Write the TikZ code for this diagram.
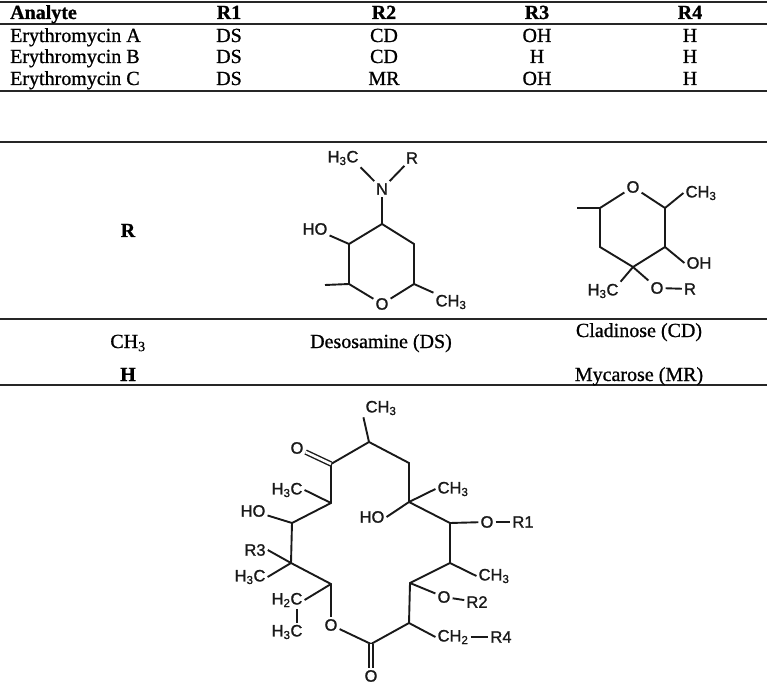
\documentclass[tikz,border=0pt]{standalone}
\usepackage{fontspec}
\setmainfont[FakeBold=0.9,BoldFeatures={FakeBold=0.9}]{Liberation Serif}
\newfontfamily\chemfont[FakeBold=1.3]{Liberation Sans}
\tikzset{
    rulea/.style={line width=2.2pt,black!85},
    cell/.style={anchor=base,inner sep=0pt,font=\fontsize{20}{22}\selectfont},
    head/.style={cell,font=\fontsize{20}{22}\selectfont\bfseries},
    bond/.style={line width=1.9pt,black!90},
    dbond/.style={bond,double,double distance=2.6pt,line width=1.4pt},
    atom/.style={inner sep=2pt,font=\fontsize{16.5}{18}\selectfont\chemfont,black!90},
}
\begin{document}
\begin{tikzpicture}[x=1pt,y=-1pt]
        \useasboundingbox (0,0) rectangle (767,684);
        %% Rules
        \draw[rulea] (0,2) to (767,2);
        \draw[rulea] (0,24) to (767,24);
        \draw[rulea] (0,91) to (767,91);
        \draw[rulea] (0,142) to (767,142);
        \draw[rulea] (0,319) to (767,319);
        \draw[rulea] (0,385) to (767,385);
        %% Upper table
        \node[head,anchor=base west] (analyte) at (10,19) {Analyte};
        \node[head] (ra) at (229,19) {R1};
        \node[head] (rb) at (384,19) {R2};
        \node[head] (rc) at (537,19) {R3};
        \node[head] (rd) at (690,19) {R4};
        \node[cell,anchor=base west] (erya) at (10,42) {Erythromycin A};
        \node[cell] (ads) at (229,42) {DS};
        \node[cell] (acd) at (384,42) {CD};
        \node[cell] (aoh) at (537,42) {OH};
        \node[cell] (ah) at (690,42) {H};
        \node[cell,anchor=base west] (eryb) at (10,63) {Erythromycin B};
        \node[cell] (bds) at (229,63) {DS};
        \node[cell] (bcd) at (384,63) {CD};
        \node[cell] (boh) at (537,63) {H};
        \node[cell] (bh) at (690,63) {H};
        \node[cell,anchor=base west] (eryc) at (10,85) {Erythromycin C};
        \node[cell] (cds) at (229,85) {DS};
        \node[cell] (cmr) at (384,85) {MR};
        \node[cell] (coh) at (537,85) {OH};
        \node[cell] (ch) at (690,85) {H};
        %% Lower table
        \node[head] (rhead) at (128,237) {R};
        \node[cell] (rme) at (128,348) {CH\textsubscript{3}};
        \node[head] (rh) at (128,381) {H};
        \node[cell] (dsname) at (381,348) {Desosamine (DS)};
        \node[cell] (cdname) at (639,337) {Cladinose (CD)};
        \node[cell] (mrname) at (639,381) {Mycarose (MR)};
        %% Desosamine
        \coordinate (da) at (382,224);
        \coordinate (db) at (414,244);
        \coordinate (dc) at (414,284);
        \coordinate (dd) at (349,284);
        \coordinate (de) at (349,244);
        \coordinate (dme) at (325,285);
        \node[atom] (dn) at (382,189) {N};
        \node[atom] (dhc) at (343,158) {H\textsubscript{3}C};
        \node[atom] (dr) at (412,158) {R};
        \node[atom] (dho) at (315,229) {HO};
        \node[atom] (do) at (382,304) {O};
        \node[atom] (dch) at (451,302) {CH\textsubscript{3}};
        \draw[bond] (da) -- (db) -- (dc) -- (do) -- (dd) -- (de) -- (da);
        \draw[bond] (da) -- (dn);
        \draw[bond] (dn) -- (dhc.south east);
        \draw[bond] (dn) -- (dr);
        \draw[bond] (de) -- (dho);
        \draw[bond] (dd) -- (dme);
        \draw[bond] (dc) -- (dch.north west);
        %% Cladinose
        \coordinate (ca) at (600,208);
        \coordinate (cb) at (600,247);
        \coordinate (cc) at (633,267);
        \coordinate (cd) at (665,247);
        \coordinate (ce) at (665,208);
        \coordinate (cme) at (577,208);
        \node[atom] (co) at (633,187) {O};
        \node[atom] (cch) at (701,193) {CH\textsubscript{3}};
        \node[atom] (coh) at (699,263) {OH};
        \node[atom] (chc) at (603,291) {H\textsubscript{3}C};
        \node[atom] (cop) at (657,288) {O};
        \node[atom] (crr) at (690,289) {R};
        \draw[bond] (co) -- (ca) -- (cb) -- (cc) -- (cd) -- (ce) -- (co);
        \draw[bond] (ca) -- (cme);
        \draw[bond] (ce) -- (cch.west);
        \draw[bond] (cd) -- (coh.west);
        \draw[bond] (cc) -- (chc.north east);
        \draw[bond] (cc) -- (cop);
        \draw[bond] (cop) -- (crr);
        %% Macrolide ring
        \coordinate (ma) at (369,442);
        \coordinate (mb) at (331,464);
        \coordinate (mc) at (409,463);
        \coordinate (md) at (409,502);
        \coordinate (me) at (450,523);
        \coordinate (mf) at (450,563);
        \coordinate (mg) at (410,583);
        \coordinate (mh) at (409,623);
        \coordinate (mi) at (371,644);
        \coordinate (mj) at (331,584);
        \coordinate (mk) at (291,563);
        \coordinate (ml) at (292,523);
        \coordinate (mm) at (331,503);
        \node[atom] (mo) at (331,625) {O};
        \node[atom] (mok) at (297,448) {O};
        \node[atom] (moc) at (371,676) {O};
        \node[atom] (mtop) at (381,408) {CH\textsubscript{3}};
        \node[atom] (mhca) at (287,490) {H\textsubscript{3}C};
        \node[atom] (mhoa) at (253,511) {HO};
        \node[atom] (mrc) at (255,550) {R3};
        \node[atom] (mhcb) at (250,577) {H\textsubscript{3}C};
        \node[atom] (mhb) at (287,600) {H\textsubscript{2}C};
        \node[atom] (mhcc) at (287,632) {H\textsubscript{3}C};
        \node[atom] (mhob) at (372,517) {HO};
        \node[atom] (mcha) at (453,489) {CH\textsubscript{3}};
        \node[atom] (moa) at (487,522) {O};
        \node[atom] (mra) at (523,522) {R1};
        \node[atom] (mchb) at (494,576) {CH\textsubscript{3}};
        \node[atom] (mob) at (444,597) {O};
        \node[atom] (mrb) at (477,602) {R2};
        \node[atom] (mchc) at (453,637) {CH\textsubscript{2}};
        \node[atom] (mrd) at (501,637) {R4};
        \draw[bond] (mb) -- (ma) -- (mc) -- (md) -- (me) -- (mf) -- (mg) -- (mh) -- (mi) -- (mo) -- (mj) -- (mk) -- (ml) -- (mm) -- (mb);
        \draw[bond] (ma) -- (mtop.south west);
        \draw[dbond] (mb) -- (mok);
        \draw[dbond] (mi) -- (moc);
        \draw[bond] (mm) -- (mhca.east);
        \draw[bond] (ml) -- (mhoa);
        \draw[bond] (mk) -- (mrc.east);
        \draw[bond] (mk) -- (mhcb.east);
        \draw[bond] (mj) -- (mhb.east);
        \draw[bond] ([xshift=10pt]mhb.south) -- ([xshift=10pt]mhcc.north);
        \draw[bond] (md) -- (mhob.east);
        \draw[bond] (md) -- (mcha.west);
        \draw[bond] (me) -- (moa);
        \draw[bond] (moa) -- (mra);
        \draw[bond] (mf) -- (mchb.west);
        \draw[bond] (mg) -- (mob);
        \draw[bond] (mob) -- (mrb);
        \draw[bond] (mh) -- (mchc.west);
        \draw[bond] (mchc) -- (mrd);
    \end{tikzpicture}
\end{document}
